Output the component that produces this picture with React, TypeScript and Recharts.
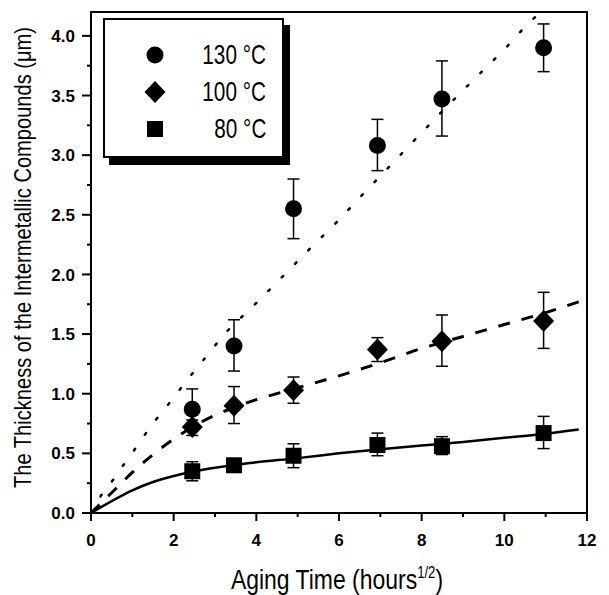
import React from 'react';
import { ComposedChart, Line, Scatter, ErrorBar, XAxis, YAxis, ReferenceArea } from 'recharts';

// sqrt(aging hours)
const agingTimes = [2.45, 3.46, 4.9, 6.93, 8.49, 10.95];

const thick130 = [0.87, 1.4, 2.55, 3.08, 3.47, 3.9];
const high130 = [1.04, 1.62, 2.8, 3.3, 3.79, 4.1];
const low130 = [0.7, 1.19, 2.3, 2.87, 3.16, 3.7];

const thick100 = [0.72, 0.9, 1.03, 1.37, 1.44, 1.61];
const high100 = [0.78, 1.06, 1.14, 1.47, 1.66, 1.85];
const low100 = [0.65, 0.75, 0.92, 1.27, 1.23, 1.38];

const thick80 = [0.35, 0.4, 0.48, 0.57, 0.56, 0.67];
const high80 = [0.43, 0.43, 0.58, 0.67, 0.64, 0.81];
const low80 = [0.27, 0.37, 0.38, 0.48, 0.49, 0.54];

// fitted curves
const fitX130 = [0, 0.27, 0.54, 0.78, 1.03, 1.27, 1.52, 1.8, 2.07, 2.34, 2.62, 2.9, 3.18, 3.94, 4.6, 5.28, 5.95, 6.6, 7.29, 7.95, 8.62, 9.31, 9.98, 10.63, 10.85];
const fitY130 = [0, 0.16, 0.28, 0.4, 0.52, 0.64, 0.76, 0.88, 1.0, 1.12, 1.24, 1.36, 1.48, 1.74, 1.97, 2.21, 2.44, 2.68, 2.93, 3.17, 3.41, 3.65, 3.88, 4.12, 4.19];
const fitX100 = [0, 0.5, 1, 1.5, 2, 2.5, 3, 3.5, 4, 5, 6, 7, 8, 9, 10, 11, 11.8];
const fitY100 = [0, 0.17, 0.34, 0.49, 0.62, 0.73, 0.82, 0.89, 0.95, 1.05, 1.15, 1.26, 1.38, 1.48, 1.58, 1.68, 1.77];
const fitX80 = [0, 0.5, 1, 1.5, 2, 2.5, 3, 3.5, 4, 5, 6, 7, 8, 9, 10, 11, 11.8];
const fitY80 = [0, 0.1, 0.19, 0.26, 0.31, 0.35, 0.38, 0.405, 0.425, 0.46, 0.5, 0.535, 0.565, 0.595, 0.63, 0.665, 0.7];

const xTicks = [0, 1, 2, 3, 4, 5, 6, 7, 8, 9, 10, 11, 12];
const yTicks = [0, 0.25, 0.5, 0.75, 1, 1.25, 1.5, 1.75, 2, 2.25, 2.5, 2.75, 3, 3.25, 3.5, 3.75, 4];

const SANS = '"Liberation Sans", Arial, sans-serif';
const NARROW_SCALE = 0.82;

const points = (ys: number[], hi: number[], lo: number[]) =>
  agingTimes.map((x, i) => ({ x, y: ys[i], err: [+(ys[i] - lo[i]).toFixed(2), +(hi[i] - ys[i]).toFixed(2)] }));
const curve = (xs: number[], ys: number[]) => xs.map((x, i) => ({ x, y: ys[i] }));

const data130 = points(thick130, high130, low130);
const data100 = points(thick100, high100, low100);
const data80 = points(thick80, high80, low80);

const CircleDot = (p: any) => <circle cx={p.cx} cy={p.cy} r={8.5} fill="#000" />;
const DiamondDot = (p: any) => (
  <polygon points={`${p.cx},${p.cy - 11} ${p.cx + 10.5},${p.cy} ${p.cx},${p.cy + 11} ${p.cx - 10.5},${p.cy}`} fill="#000" />
);
const SquareDot = (p: any) => <rect x={p.cx - 8} y={p.cy - 8} width={16} height={16} fill="#000" />;

const XTick = ({ x, y, payload }: any) => {
  const major = payload.value % 2 === 0;
  return (
    <g>
      <line x1={x} y1={y} x2={x} y2={y + (major ? 8 : 4)} stroke="#000" strokeWidth={2} />
      {major && (
        <text x={x} y={y + 33} textAnchor="middle" fontFamily={SANS} fontWeight="bold" fontSize={17} fill="#000">
          {payload.value}
        </text>
      )}
    </g>
  );
};

const YTick = ({ x, y, payload }: any) => {
  const v = payload.value;
  const major = Math.abs(v * 2 - Math.round(v * 2)) < 1e-6;
  return (
    <g>
      <line x1={x} y1={y} x2={x - (major ? 9 : 4)} y2={y} stroke="#000" strokeWidth={2} />
      {major && (
        <text x={x - 16} y={y} dy="0.36em" textAnchor="end" fontFamily={SANS} fontWeight="bold" fontSize={17} fill="#000">
          {v.toFixed(1)}
        </text>
      )}
    </g>
  );
};

const LegendRow = ({ marker, label }: { marker: string; label: string }) => (
  <div style={{ display: 'flex', alignItems: 'center', height: 37 }}>
    <svg width={24} height={24} style={{ marginLeft: 38 }}>
      {marker === 'circle' && <circle cx={12} cy={12} r={8.5} fill="#000" />}
      {marker === 'diamond' && <polygon points="12,1 22.5,12 12,23 1.5,12" fill="#000" />}
      {marker === 'square' && <rect x={4} y={4} width={16} height={16} fill="#000" />}
    </svg>
    <span
      style={{
        marginLeft: 'auto',
        marginRight: 16,
        fontFamily: SANS,
        fontSize: 28,
        lineHeight: 1,
        display: 'inline-block',
        transform: 'scaleX(0.74)',
        transformOrigin: 'right center',
        whiteSpace: 'nowrap',
      }}
    >
      {label}
    </span>
  </div>
);

export default function App() {
  return (
    <div style={{ position: 'absolute', left: 0, top: 0, width: 609, height: 595, background: '#fff' }}>
      <ComposedChart width={609} height={595} margin={{ top: 12, right: 22, bottom: 0, left: 0 }}>
        <XAxis
          type="number"
          dataKey="x"
          domain={[0, 12]}
          ticks={xTicks}
          interval={0}
          height={82}
          tickSize={0}
          tickMargin={0}
          tickLine={false}
          axisLine={{ stroke: '#000', strokeWidth: 2 }}
          tick={<XTick />}
          label={{
            content: ({ viewBox }: any) => (
              <text
                transform={`translate(${viewBox.x + viewBox.width / 2 - 2}, ${viewBox.y + 76}) scale(${NARROW_SCALE}, 1)`}
                textAnchor="middle"
                fontFamily={SANS}
                fontSize={28}
                fill="#000"
              >
                Aging Time (hours<tspan dy={-11} fontSize={16}>1/2</tspan><tspan dy={11}>)</tspan>
              </text>
            ),
          }}
        />
        <YAxis
          type="number"
          dataKey="y"
          domain={[0, 4.2]}
          ticks={yTicks}
          interval={0}
          width={91}
          tickSize={0}
          tickMargin={0}
          tickLine={false}
          axisLine={{ stroke: '#000', strokeWidth: 2 }}
          tick={<YTick />}
          label={{
            content: ({ viewBox }: any) => (
              <text
                transform={`translate(${viewBox.x + 22}, ${viewBox.y + viewBox.height / 2 - 5}) rotate(-90) scale(${NARROW_SCALE}, 1)`}
                textAnchor="middle"
                dy="0.35em"
                fontFamily={SANS}
                fontSize={24.5}
                fill="#000"
              >
                The Thickness of the Intermetallic Compounds (μm)
              </text>
            ),
          }}
        />
        <ReferenceArea x1={0} x2={12} y1={0} y2={4.2} fill="none" stroke="#000" strokeWidth={2} ifOverflow="visible" />

        <Line data={curve(fitX130, fitY130)} dataKey="y" type="monotone" stroke="#000" strokeWidth={2.5} strokeDasharray="2 17" strokeLinecap="round" dot={false} isAnimationActive={false} />
        <Line data={curve(fitX100, fitY100)} dataKey="y" type="monotone" stroke="#000" strokeWidth={3} strokeDasharray="12 12" dot={false} isAnimationActive={false} />
        <Line data={curve(fitX80, fitY80)} dataKey="y" type="monotone" stroke="#000" strokeWidth={2.5} dot={false} isAnimationActive={false} />

        <Scatter data={data130} dataKey="y" fill="#000" shape={CircleDot} isAnimationActive={false}>
          <ErrorBar dataKey="err" direction="y" width={6} stroke="#000" strokeWidth={1.5} />
        </Scatter>
        <Scatter data={data100} dataKey="y" fill="#000" shape={DiamondDot} isAnimationActive={false}>
          <ErrorBar dataKey="err" direction="y" width={6} stroke="#000" strokeWidth={1.5} />
        </Scatter>
        <Scatter data={data80} dataKey="y" fill="#000" shape={SquareDot} isAnimationActive={false}>
          <ErrorBar dataKey="err" direction="y" width={6} stroke="#000" strokeWidth={1.5} />
        </Scatter>
      </ComposedChart>

      <div
        style={{
          position: 'absolute',
          left: 103,
          top: 18,
          width: 181,
          height: 140,
          border: '2px solid #000',
          boxShadow: '6px 7px 0 #000',
          background: '#fff',
          paddingTop: 16,
          boxSizing: 'border-box',
        }}
      >
        <LegendRow marker="circle" label="130 °C" />
        <LegendRow marker="diamond" label="100 °C" />
        <LegendRow marker="square" label="80 °C" />
      </div>
    </div>
  );
}
